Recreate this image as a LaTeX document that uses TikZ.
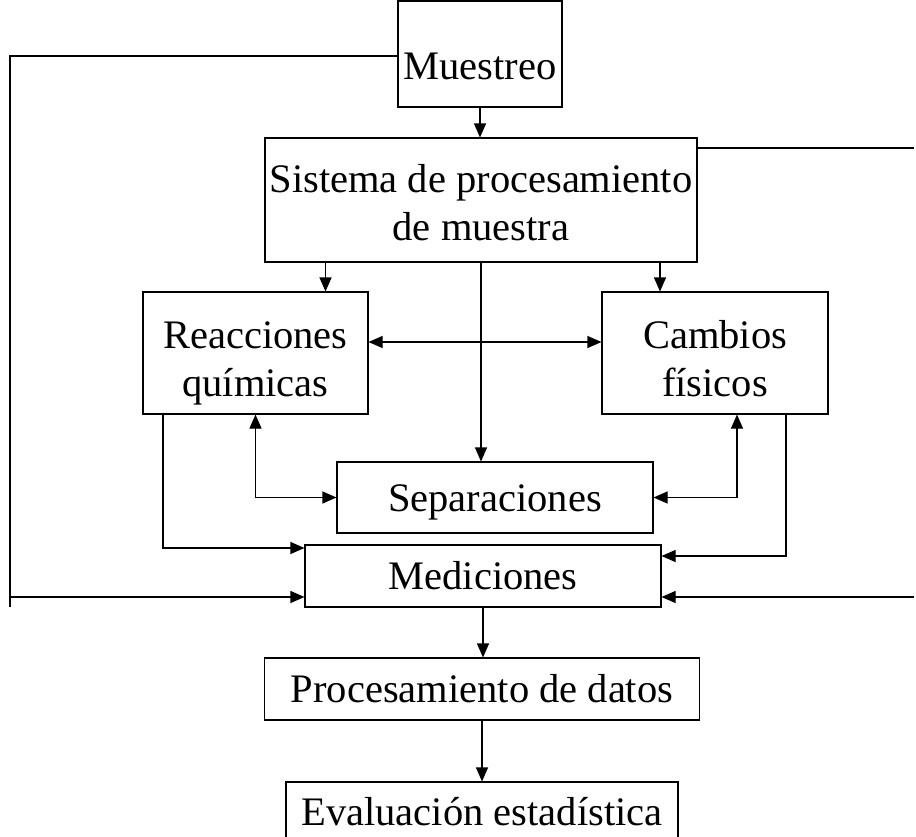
\documentclass[tikz,border=0pt]{standalone}
\usepackage{fontspec}
\setmainfont{Liberation Serif}
\usetikzlibrary{arrows.meta}
\def \lw{1.1pt}
\newcommand{\bajar}[2]{\raisebox{-#1}[\height][\depth]{\begin{tabular}{@{}c@{}}#2\end{tabular}}}

\begin{document}
\begin{tikzpicture}[x=1pt, y=-1pt, line width=\lw,
    caja/.style={draw=black, inner sep=0pt, align=center,
      font=\fontsize{40.5}{48}\selectfont},
    arr/.style={-{Triangle[length=14pt, width=12pt]}},
    darr/.style={{Triangle[length=14pt, width=12pt]}-{Triangle[length=14pt, width=12pt]}}]
    \useasboundingbox (0,0) rectangle (916,836);
    \node[caja, minimum width=164pt, minimum height=106pt] (mue) at (480, 54) {\bajar{16pt}{Muestreo}};
    \node[caja, minimum width=432pt, minimum height=124pt] (sis) at (481, 200) {\bajar{7pt}{Sistema de procesamiento\\de muestra}};
    \node[caja, minimum width=225pt, minimum height=122pt] (rea) at (255.5, 353) {\bajar{10pt}{Reacciones\\químicas}};
    \node[caja, minimum width=226pt, minimum height=122pt] (cam) at (715, 353) {\bajar{10pt}{Cambios\\físicos}};
    \node[caja, minimum width=316pt, minimum height=71pt] (sep) at (495, 497.5) {\bajar{4pt}{Separaciones}};
    \node[caja, minimum width=356pt, minimum height=62pt] (med) at (483, 576) {Mediciones};
    \node[caja, minimum width=435pt, minimum height=62pt] (pro) at (482, 689) {Procesamiento de datos};
    \node[caja, minimum width=392pt, minimum height=60pt] (eva) at (482, 812) {Evaluación estadística};
    \coordinate (fbL) at (10, 56);
    \coordinate (fbLb) at (10, 607);
    \coordinate (fbR) at (914, 148);
    \coordinate (fbRb) at (914, 597);
    % flujo principal
    \draw[arr] (mue.south) -- (mue.south |- sis.north);
    \draw[arr] ([xshift=70pt]rea.north |- sis.south) -- ([xshift=70pt]rea.north);
    \draw[arr] ([xshift=-55pt]cam.north |- sis.south) -- ([xshift=-55pt]cam.north);
    \draw[arr] (sis.south) -- (sis.south |- sep.north);
    \draw[darr] ([yshift=11pt]rea.east) -- ([yshift=11pt]cam.west);
    \draw[darr] (rea.south) |- (sep.west);
    \draw[darr] ([xshift=22pt]cam.south) |- (sep.east);
    \draw[arr] ([xshift=-92.5pt]rea.south) |- ([yshift=28pt]med.west);
    \draw[arr] ([xshift=71pt]cam.south) |- ([yshift=20pt]med.east);
    % lazos externos
    \draw (mue.west |- fbL) -- (fbL) -- (fbLb);
    \draw[arr] (fbLb |- fbRb) -- (med.west |- fbRb);
    \draw ([yshift=52pt]sis.east) -- (fbR);
    \draw[arr] (fbRb) -- (med.east |- fbRb);
    \draw[arr] (med.south) -- (med.south |- pro.north);
    \draw[arr] (pro.south) -- (pro.south |- eva.north);
  \end{tikzpicture}
\end{document}
